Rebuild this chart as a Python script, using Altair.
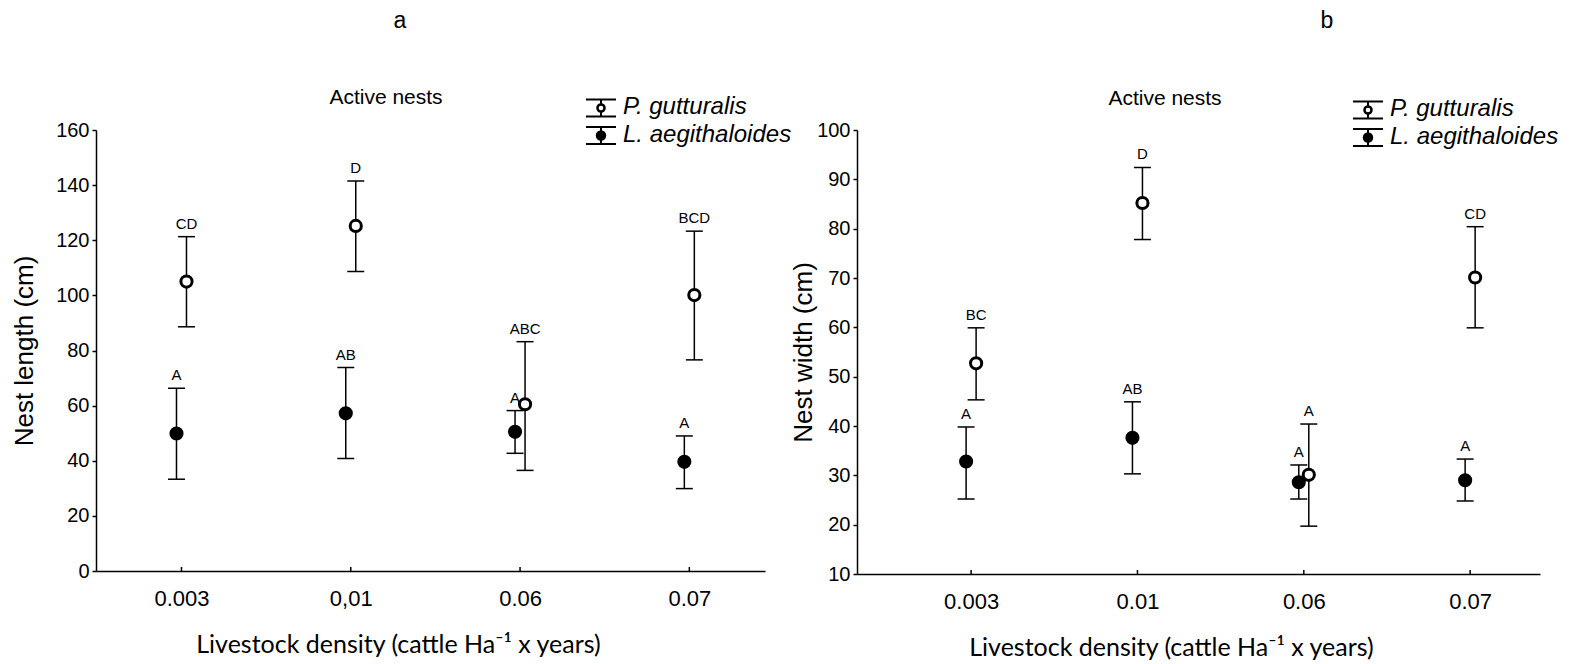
import altair as alt
import pandas as pd

# ---------------- data ----------------
CATS_A = ["0.003", "0,01", "0.06", "0.07"]
CATS_B = ["0.003", "0.01", "0.06", "0.07"]
SPECIES = ["P. gutturalis", "L. aegithaloides"]

# Panel a: Nest length (cm)
A_PG_MEAN = [105.0, 125.2, 60.5, 100.1]
A_PG_LOW = [88.6, 108.7, 36.5, 76.6]
A_PG_HIGH = [121.3, 141.5, 83.2, 123.3]
A_PG_LETTERS = ["CD", "D", "ABC", "BCD"]
A_LA_MEAN = [49.9, 57.2, 50.5, 39.6]
A_LA_LOW = [33.3, 40.8, 42.7, 29.9]
A_LA_HIGH = [66.3, 73.8, 58.2, 49.0]
A_LA_LETTERS = ["A", "AB", "A", "A"]
A_YTICKS = [0, 20, 40, 60, 80, 100, 120, 140, 160]

# Panel b: Nest width (cm)
B_PG_MEAN = [52.7, 85.2, 30.1, 70.1]
B_PG_LOW = [45.3, 77.8, 19.7, 59.9]
B_PG_HIGH = [59.9, 92.4, 40.4, 80.4]
B_PG_LETTERS = ["BC", "D", "A", "CD"]
B_LA_MEAN = [32.8, 37.6, 28.6, 29.0]
B_LA_LOW = [25.2, 30.3, 25.2, 24.8]
B_LA_HIGH = [39.8, 44.9, 32.1, 33.3]
B_LA_LETTERS = ["A", "AB", "A", "A"]
B_YTICKS = [10, 20, 30, 40, 50, 60, 70, 80, 90, 100]

XTITLE = "Livestock density (cattle Ha\u207b\u00b9 x years)"

FONT = "Liberation Sans, Arial, sans-serif"
XFONT = "Lato, Carlito, Calibri, sans-serif"


def frame(cats, mean, low, high, letters):
    return pd.DataFrame({
        "idx": list(range(len(cats))),
        "mean": mean, "low": low, "high": high, "letter": letters,
    })


def panel(cats, pg, la, ytitle, ydom, yticks, xdom, width, height, ytp,
          xtitle_x, legend_xy, active_xy, tag, tag_xy):
    expr = "[" + ",".join("'%s'" % c for c in cats) + "][datum.value]"
    xaxis = alt.Axis(values=list(range(len(cats))), labelExpr=expr, title=XTITLE,
                     ticks=False, grid=False, domainColor="black", domainWidth=1.5,
                     labelFont=FONT, labelFontSize=22, labelColor="black",
                     labelPadding=17, labelFlush=False, labelOverlap=False,
                     titleFont=XFONT, titleFontSize=25, titleFontWeight="normal",
                     titleColor="black", titlePadding=23, titleX=xtitle_x)
    xscale = alt.Scale(domain=xdom, nice=False, zero=False)
    yaxis = alt.Axis(values=yticks, grid=False, tickSize=4, tickWidth=1.5,
                     tickColor="black", domainColor="black", domainWidth=1.5,
                     labelFont=FONT, labelFontSize=20, labelColor="black",
                     labelPadding=3, title=ytitle, titleFont=FONT,
                     titleFontSize=26, titleFontWeight="normal",
                     titleColor="black", titlePadding=ytp)
    yscale = alt.Scale(domain=ydom, nice=False, zero=False)

    def X():
        return alt.X("idx:Q", scale=xscale, axis=xaxis)

    def Y(f):
        return alt.Y(f + ":Q", scale=yscale, axis=yaxis)

    layers = []
    # inward x ticks
    tick_df = pd.DataFrame({"idx": list(range(len(cats)))})
    layers.append(alt.Chart(tick_df).mark_rule(color="black", strokeWidth=1.5).encode(
        x=X(), y=alt.value(height), y2=alt.value(height - 4)))

    for df, filled, off in [(la, True, -5), (pg, False, 5)]:
        base = alt.Chart(df)
        layers.append(base.mark_rule(color="black", strokeWidth=1.5, xOffset=off).encode(
            x=X(), y=Y("low"), y2="high:Q"))
        for f in ["low", "high"]:
            layers.append(base.mark_tick(orient="horizontal", color="black", size=17,
                                         thickness=1.5, opacity=1, xOffset=off).encode(
                x=X(), y=Y(f)))
        if filled:
            pt = base.mark_circle(size=200, color="black", opacity=1, xOffset=off)
        else:
            pt = base.mark_circle(size=125, fill="white", stroke="black", strokeWidth=3,
                                  opacity=1, xOffset=off)
        layers.append(pt.encode(x=X(), y=Y("mean")))
        layers.append(base.mark_text(font=FONT, fontSize=15, baseline="alphabetic",
                                     dy=-8, xOffset=off, color="black").encode(
            x=X(), y=Y("high"), text="letter:N"))

    dummy = pd.DataFrame({"k": [0]})
    # legend
    cx, cy0 = legend_xy
    for i, name in enumerate(SPECIES):
        cy = cy0 + i * 27.5
        d = alt.Chart(dummy)
        for yy in (cy - 8.5, cy + 8.5):
            layers.append(d.mark_rule(color="black", strokeWidth=2).encode(
                x=alt.value(cx - 15), x2=alt.value(cx + 15), y=alt.value(yy)))
        layers.append(d.mark_rule(color="black", strokeWidth=2).encode(
            x=alt.value(cx), y=alt.value(cy - 8.5), y2=alt.value(cy + 8.5)))
        if i == 0:
            layers.append(d.mark_circle(size=50, fill="white", stroke="black",
                                        strokeWidth=2.5, opacity=1).encode(
                x=alt.value(cx), y=alt.value(cy)))
        else:
            layers.append(d.mark_circle(size=110, color="black", opacity=1).encode(
                x=alt.value(cx), y=alt.value(cy)))
        layers.append(d.mark_text(align="left", baseline="middle", font=FONT,
                                  fontSize=24, fontStyle="italic", color="black").encode(
            x=alt.value(cx + 22), y=alt.value(cy - 1), text=alt.value(name)))

    d = alt.Chart(dummy)
    layers.append(d.mark_text(align="center", baseline="alphabetic", font=FONT,
                              fontSize=21, color="black").encode(
        x=alt.value(active_xy[0]), y=alt.value(active_xy[1]), text=alt.value("Active nests")))
    layers.append(d.mark_text(align="center", baseline="alphabetic", font=FONT,
                              fontSize=23, color="black").encode(
        x=alt.value(tag_xy[0]), y=alt.value(tag_xy[1]), text=alt.value(tag)))

    return alt.layer(*layers).properties(width=width, height=height)


left = panel(
    CATS_A,
    frame(CATS_A, A_PG_MEAN, A_PG_LOW, A_PG_HIGH, A_PG_LETTERS),
    frame(CATS_A, A_LA_MEAN, A_LA_LOW, A_LA_HIGH, A_LA_LETTERS),
    "Nest length (cm)", [0, 160], A_YTICKS, [-0.505, 3.447], 669, 441, 18,
    302, (505, -22), (290, -26), "a", (304, -102))

right = panel(
    CATS_B,
    frame(CATS_B, B_PG_MEAN, B_PG_LOW, B_PG_HIGH, B_PG_LETTERS),
    frame(CATS_B, B_LA_MEAN, B_LA_LOW, B_LA_HIGH, B_LA_LETTERS),
    "Nest width (cm)", [10, 100], B_YTICKS, [-0.686, 3.42], 683, 444, 0,
    314, (511, -20), (308, -25), "b", (470, -102))

chart = alt.hconcat(left, right, spacing=92, bounds="flush").properties(
    padding={"left": 3, "top": 2, "right": 0, "bottom": 0},
    background="white",
).configure_view(stroke=None)

chart.save("out.html", embed_options={"renderer": "svg", "actions": False})
